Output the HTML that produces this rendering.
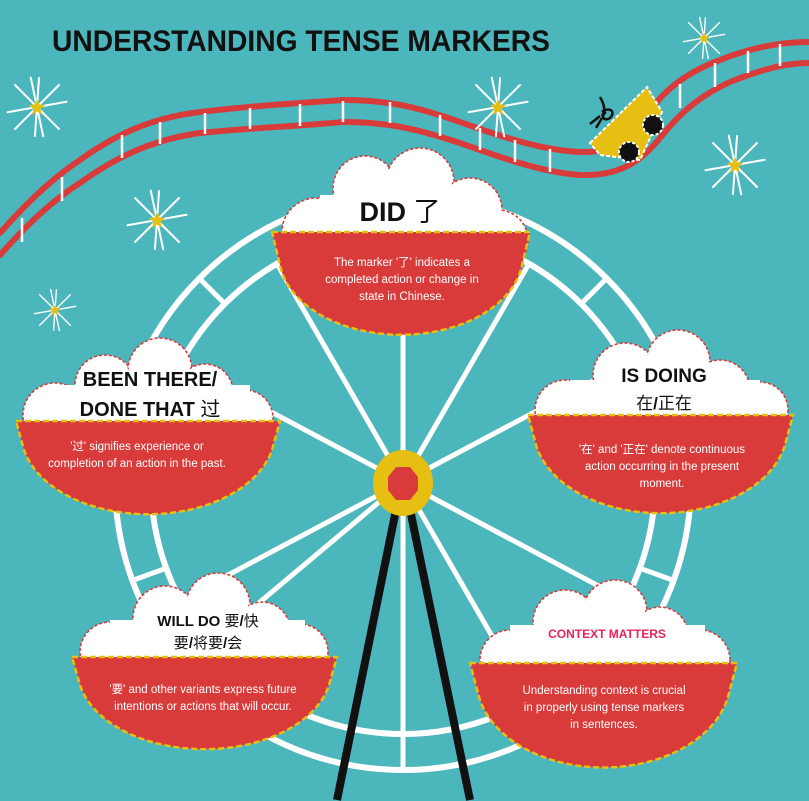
<!DOCTYPE html>
<html><head><meta charset="utf-8"><style>
html,body{margin:0;padding:0;background:#4bb6bb;}
svg{display:block}
.t{font-family:"Liberation Sans","Noto Sans CJK SC",sans-serif;}
.h{font-family:"Liberation Sans","Noto Sans CJK SC",sans-serif;font-weight:900;fill:#111;}
.d{font-family:"Liberation Sans Narrow","Liberation Sans","Noto Sans CJK SC",sans-serif;fill:#fff;font-size:11.5px;text-anchor:middle;}
</style></head><body>
<svg width="809" height="801" viewBox="0 0 809 801" xmlns="http://www.w3.org/2000/svg">
<rect width="809" height="801" fill="#4bb6bb"/>
<defs>
<g id="star">
 <g stroke="#fff" stroke-width="2" stroke-linecap="round">
  <line x1="0" y1="-30" x2="0" y2="30" transform="rotate(-12)"/>
  <line x1="-30" y1="0" x2="30" y2="0" transform="rotate(-10)"/>
  <line x1="-22" y1="-22" x2="22" y2="22"/>
  <line x1="22" y1="-22" x2="-22" y2="22"/>
  <line x1="-8" y1="-28" x2="8" y2="28" transform="rotate(20)"/>
 </g>
 <polygon points="0,-8 2.5,-2.5 8,-2 3.5,2 5,8 0,4.5 -5,8 -3.5,2 -8,-2 -2.5,-2.5" fill="#e6bf12"/>
</g>
</defs>

<text x="52" y="51" class="h" font-size="30" textLength="498" lengthAdjust="spacingAndGlyphs">UNDERSTANDING TENSE MARKERS</text>

<!-- track -->
<g fill="none" stroke="#d93a3a" stroke-width="6" stroke-dasharray="7 2" stroke-linecap="round">
<path d="M0,233 C25,205 50,180 80,160 C115,135 150,118 200,112 C250,106 300,103 343,100 C390,100 420,108 460,122 C500,136 540,150 580,152 C620,152 630,140 645,118 C660,95 680,75 720,60 C750,48 780,42 809,42"/>
<path d="M0,255 C25,227 50,202 80,183 C115,158 150,140 200,133 C250,128 300,126 343,122 C390,122 420,130 460,143 C500,157 540,172 580,175 C620,176 640,162 660,138 C676,118 695,98 730,82 C760,70 785,63 809,63"/>
</g>
<g stroke="#fff" stroke-width="2.5">
<line x1="22" y1="218" x2="22" y2="242"/><line x1="62" y1="177" x2="62" y2="201"/>
<line x1="122" y1="135" x2="122" y2="158"/><line x1="160" y1="122" x2="160" y2="144"/>
<line x1="205" y1="113" x2="205" y2="134"/><line x1="250" y1="108" x2="250" y2="129"/>
<line x1="300" y1="104" x2="300" y2="126"/><line x1="343" y1="101" x2="343" y2="122"/>
<line x1="390" y1="102" x2="390" y2="123"/><line x1="440" y1="115" x2="440" y2="136"/>
<line x1="480" y1="128" x2="480" y2="150"/><line x1="515" y1="140" x2="515" y2="162"/>
<line x1="550" y1="149" x2="550" y2="172"/>
<line x1="680" y1="84" x2="680" y2="108"/><line x1="715" y1="63" x2="715" y2="87"/>
<line x1="748" y1="51" x2="748" y2="73"/><line x1="780" y1="44" x2="780" y2="66"/>
</g>
<!-- cart -->
<polygon points="590,143 647,87 662,112 640,160 600,155" fill="#e6bf12" stroke="#fff" stroke-width="2" stroke-dasharray="4 2"/>
<circle cx="653" cy="125" r="10" fill="#111" stroke="#fff" stroke-width="2" stroke-dasharray="3 2"/>
<circle cx="629" cy="152" r="10" fill="#111" stroke="#fff" stroke-width="2" stroke-dasharray="3 2"/>
<path d="M600,97 C604,104 606,110 602,116 M602,112 C610,106 616,112 610,118 C604,122 600,116 606,112 M600,116 L590,124 M602,118 L596,128" stroke="#111" stroke-width="2.5" fill="none"/>

<use href="#star" x="37" y="107"/><use href="#star" x="498" y="107"/>
<g transform="translate(704,38) scale(0.7)"><use href="#star"/></g>
<use href="#star" x="735" y="165"/><use href="#star" x="157" y="220"/>
<g transform="translate(55,310) scale(0.7)"><use href="#star"/></g>

<!-- wheel -->
<g fill="none" stroke="#fff" stroke-width="6">
<circle cx="403" cy="482" r="288"/>
<circle cx="403" cy="482" r="252"/>
<g stroke-width="5">
<line x1="403" y1="482" x2="403" y2="230"/><line x1="403" y1="482" x2="403" y2="734"/>
<line x1="403" y1="482" x2="655" y2="482" transform="rotate(-28 403 482)"/>
<line x1="403" y1="482" x2="655" y2="482" transform="rotate(28 403 482)"/>
<line x1="403" y1="482" x2="655" y2="482" transform="rotate(60 403 482)"/>
<line x1="403" y1="482" x2="655" y2="482" transform="rotate(152 403 482)"/>
<line x1="403" y1="482" x2="655" y2="482" transform="rotate(-152 403 482)"/>
<line x1="403" y1="482" x2="655" y2="482" transform="rotate(-120 403 482)"/>
<line x1="403" y1="482" x2="655" y2="482" transform="rotate(-60 403 482)"/>
<line x1="403" y1="482" x2="655" y2="482" transform="rotate(140 403 482)"/>
</g>
<g stroke-width="5">
<line x1="403" y1="194" x2="403" y2="230" transform="rotate(-45 403 482)"/>
<line x1="403" y1="194" x2="403" y2="230" transform="rotate(45 403 482)"/>
<line x1="403" y1="194" x2="403" y2="230" transform="rotate(-110 403 482)"/>
<line x1="403" y1="194" x2="403" y2="230" transform="rotate(110 403 482)"/>
<line x1="403" y1="194" x2="403" y2="230" transform="rotate(-150 403 482)"/>
<line x1="403" y1="194" x2="403" y2="230" transform="rotate(150 403 482)"/>
<line x1="403" y1="194" x2="403" y2="230" transform="rotate(-75 403 482)"/>
<line x1="403" y1="194" x2="403" y2="230" transform="rotate(75 403 482)"/>
<line x1="403" y1="194" x2="403" y2="230" transform="rotate(180 403 482)"/>
</g>
</g>

<!-- legs & hub -->
<g stroke="#111" stroke-width="8" stroke-linecap="butt">
<line x1="399" y1="495" x2="337" y2="800"/>
<line x1="407" y1="495" x2="470" y2="800"/>
</g>
<ellipse cx="403" cy="483" rx="30" ry="33" fill="#e6bf12"/>
<polygon points="396,467 410,467 418,477 418,490 410,500 396,500 388,490 388,477" fill="#d93a3a"/>

<!-- DID -->
<g>
<g fill="#fff" stroke="#d93a3a" stroke-width="1.6" stroke-dasharray="3 2">
<circle cx="316" cy="232" r="34"/><circle cx="365" cy="188" r="32"/><circle cx="420" cy="182" r="34"/><circle cx="470" cy="210" r="32"/><circle cx="498" cy="240" r="30"/>
</g>
<g fill="#fff"><circle cx="316" cy="232" r="32"/><circle cx="365" cy="188" r="30"/><circle cx="420" cy="182" r="32"/><circle cx="470" cy="210" r="30"/><circle cx="498" cy="240" r="28"/><rect x="320" y="195" width="160" height="40"/></g>
<path d="M272,232 L530,232 L522,265 A122,80 0 0 1 280,265 Z" fill="#d93a3a" stroke="#e6bf12" stroke-width="2.5" stroke-dasharray="6 3"/>
<text x="400" y="221" text-anchor="middle" class="h" font-size="27"><tspan>DID </tspan><tspan font-weight="400">了</tspan></text>
<text class="d" x="402" y="266">The marker '了' indicates a</text>
<text class="d" x="402" y="283">completed action or change in</text>
<text class="d" x="402" y="300">state in Chinese.</text>
</g>

<!-- BEEN THERE -->
<g>
<g fill="#fff" stroke="#d93a3a" stroke-width="1.6" stroke-dasharray="3 2">
<circle cx="55" cy="415" r="32"/><circle cx="105" cy="385" r="30"/><circle cx="160" cy="370" r="32"/><circle cx="205" cy="392" r="28"/><circle cx="245" cy="418" r="28"/>
</g>
<g fill="#fff"><circle cx="55" cy="415" r="30"/><circle cx="105" cy="385" r="28"/><circle cx="160" cy="370" r="30"/><circle cx="205" cy="392" r="26"/><circle cx="245" cy="418" r="26"/><rect x="60" y="385" width="190" height="40"/></g>
<path d="M16,421 L280,421 L272,450 A127,82 0 0 1 24,450 Z" fill="#d93a3a" stroke="#e6bf12" stroke-width="2.5" stroke-dasharray="6 3"/>
<text x="150" y="386" text-anchor="middle" class="h" font-size="20">BEEN THERE/</text>
<text x="150" y="416" text-anchor="middle" class="h" font-size="20">DONE THAT <tspan font-weight="400">过</tspan></text>
<text class="d" x="137" y="450">'过' signifies experience or</text>
<text class="d" x="137" y="467">completion of an action in the past.</text>
</g>

<!-- IS DOING -->
<g>
<g fill="#fff" stroke="#d93a3a" stroke-width="1.6" stroke-dasharray="3 2">
<circle cx="565" cy="410" r="30"/><circle cx="625" cy="375" r="32"/><circle cx="678" cy="362" r="32"/><circle cx="720" cy="390" r="30"/><circle cx="760" cy="410" r="28"/>
</g>
<g fill="#fff"><circle cx="565" cy="410" r="28"/><circle cx="625" cy="375" r="30"/><circle cx="678" cy="362" r="30"/><circle cx="720" cy="390" r="28"/><circle cx="760" cy="410" r="26"/><rect x="570" y="380" width="190" height="40"/></g>
<path d="M528,415 L793,415 L785,445 A127,85 0 0 1 536,445 Z" fill="#d93a3a" stroke="#e6bf12" stroke-width="2.5" stroke-dasharray="6 3"/>
<text x="664" y="382" text-anchor="middle" class="h" font-size="19">IS DOING</text>
<text x="664" y="409" text-anchor="middle" class="t" font-size="17" fill="#111">在<tspan font-weight="900">/</tspan>正在</text>
<text class="d" x="662" y="453">'在' and '正在' denote continuous</text>
<text class="d" x="662" y="470">action occurring in the present</text>
<text class="d" x="662" y="487">moment.</text>
</g>

<!-- WILL DO -->
<g>
<g fill="#fff" stroke="#d93a3a" stroke-width="1.6" stroke-dasharray="3 2">
<circle cx="110" cy="652" r="30"/><circle cx="165" cy="618" r="32"/><circle cx="218" cy="605" r="32"/><circle cx="262" cy="630" r="28"/><circle cx="300" cy="652" r="28"/>
</g>
<g fill="#fff"><circle cx="110" cy="652" r="28"/><circle cx="165" cy="618" r="30"/><circle cx="218" cy="605" r="30"/><circle cx="262" cy="630" r="26"/><circle cx="300" cy="652" r="26"/><rect x="110" y="620" width="195" height="40"/></g>
<path d="M72,657 L337,657 L329,685 A127,80 0 0 1 80,685 Z" fill="#d93a3a" stroke="#e6bf12" stroke-width="2.5" stroke-dasharray="6 3"/>
<text x="208" y="626" text-anchor="middle" class="h" font-size="15">WILL DO <tspan font-weight="400">要</tspan>/<tspan font-weight="400">快</tspan></text>
<text x="208" y="648" text-anchor="middle" class="t" font-size="15" fill="#111">要<tspan font-weight="900">/</tspan>将要<tspan font-weight="900">/</tspan>会</text>
<text class="d" x="203" y="693">'要' and other variants express future</text>
<text class="d" x="203" y="710">intentions or actions that will occur.</text>
</g>

<!-- CONTEXT -->
<g>
<g fill="#fff" stroke="#d93a3a" stroke-width="1.6" stroke-dasharray="3 2">
<circle cx="510" cy="660" r="30"/><circle cx="565" cy="622" r="32"/><circle cx="615" cy="612" r="32"/><circle cx="660" cy="635" r="28"/><circle cx="700" cy="660" r="30"/>
</g>
<g fill="#fff"><circle cx="510" cy="660" r="28"/><circle cx="565" cy="622" r="30"/><circle cx="615" cy="612" r="30"/><circle cx="660" cy="635" r="26"/><circle cx="700" cy="660" r="28"/><rect x="510" y="625" width="195" height="40"/></g>
<path d="M470,663 L737,663 L729,693 A127,88 0 0 1 478,693 Z" fill="#d93a3a" stroke="#e6bf12" stroke-width="2.5" stroke-dasharray="6 3"/>
<text x="607" y="638" text-anchor="middle" class="h" font-size="12" style="fill:#e8245a">CONTEXT MATTERS</text>
<text class="d" x="604" y="694">Understanding context is crucial</text>
<text class="d" x="604" y="711">in properly using tense markers</text>
<text class="d" x="604" y="728">in sentences.</text>
</g>
</svg>
</body></html>
